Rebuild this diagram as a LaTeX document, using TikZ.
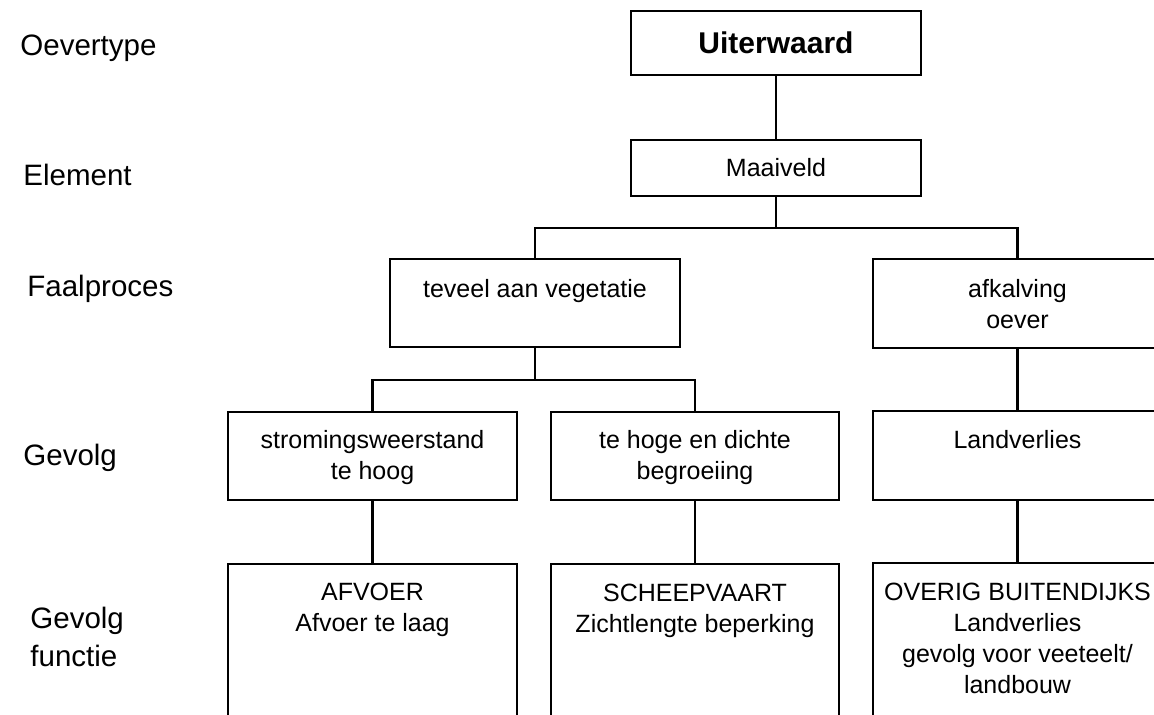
\documentclass[tikz,border=0pt]{standalone}
\usepackage{fontspec}
\setmainfont{Liberation Sans}

% box body: width, height, gap above the first line, lines of text
\newcommand\cellbox[4]{\parbox[c][#2][t]{#1}{\centering\vspace*{#3}\strut #4\par}}

\tikzset{
  frame/.style={draw, line width=1.4pt, rectangle, inner sep=0pt, outer sep=0pt, anchor=north west},
  celltext/.style={font=\fontsize{12.5}{15.5}\selectfont},
  level/.style={anchor=base west, inner sep=0pt, font=\fontsize{14.75}{19}\selectfont},
  link/.style={line width=1.4pt, line join=miter},
}

\begin{document}
\begin{tikzpicture}[x=0.5pt, y=-0.5pt]
  \useasboundingbox (0,0) rectangle (1154,714);
  \clip (0,0) rectangle (1154,714);

  % level captions on the left
  \node[level] (l1) at (20,55)  {Oevertype};
  \node[level] (l2) at (23,185) {Element};
  \node[level] (l3) at (27,296) {Faalproces};
  \node[level] (l4) at (23,465) {Gevolg};
  \node[level] (l5) at (30,628) {\begin{tabular}[t]{@{}l@{}}Gevolg\\functie\end{tabular}};

  % tree boxes
  \node[frame, minimum width=145pt, minimum height=32pt,
        font=\bfseries\fontsize{15}{18}\selectfont] (U) at (631,11) {Uiterwaard};
  \node[frame, minimum width=145pt, minimum height=28pt, celltext] (M) at (631,140) {Maaiveld};

  \node[frame, celltext] (tv) at (390,259) {\cellbox{145pt}{44pt}{8.15pt}{teveel aan vegetatie}};
  \node[frame, celltext] (af) at (873,259) {\cellbox{144.5pt}{44.5pt}{8.15pt}{afkalving\\oever}};

  \node[frame, celltext] (sw) at (228,412) {\cellbox{144.5pt}{44pt}{7.15pt}{stromingsweerstand\\te hoog}};
  \node[frame, celltext] (hd) at (551,412) {\cellbox{144pt}{44pt}{7.15pt}{te hoge en dichte\\begroeiing}};
  \node[frame, celltext] (lv) at (873,411) {\cellbox{144.5pt}{44.5pt}{7.65pt}{Landverlies}};

  \node[frame, celltext] (afv) at (228,564) {\cellbox{144.5pt}{100pt}{7.15pt}{AFVOER\\Afvoer te laag}};
  \node[frame, celltext] (sch) at (551,564) {\cellbox{144pt}{100pt}{7.65pt}{SCHEEPVAART\\Zichtlengte beperking}};
  \node[frame, celltext] (ov)  at (873,563) {\cellbox{144.5pt}{100pt}{7.65pt}{OVERIG BUITENDIJKS\\Landverlies\\gevolg voor veeteelt/\\landbouw}};

  % connectors
  \coordinate (j1) at (M.south |- 0,228);
  \coordinate (j2) at (tv.south |- 0,380);
  \draw[link] (U.south) -- (M.north);
  \draw[link] (M.south) -- (j1);
  \draw[link] (tv.north) |- (j1) -| (af.north);
  \draw[link] (tv.south) -- (j2);
  \draw[link] (sw.north) |- (j2) -| (hd.north);
  \draw[link] (sw.south) -- (afv.north);
  \draw[link] (hd.south) -- (sch.north);
  \draw[link] (af.south) -- (lv.north);
  \draw[link] (lv.south) -- (ov.north);
\end{tikzpicture}
\end{document}
